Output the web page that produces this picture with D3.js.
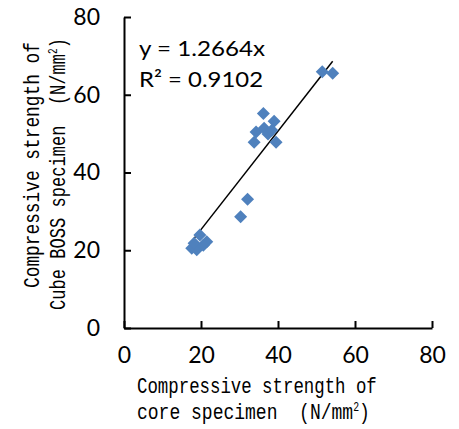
<!DOCTYPE html>
<html>
<head>
<meta charset="utf-8">
<script src="https://cdn.jsdelivr.net/npm/d3@7/dist/d3.min.js"></script>
<style>
html,body{margin:0;padding:0;background:#fff;}
svg{display:block;}
</style>
</head>
<body>
<svg id="chart" width="459" height="429"></svg>
<script>
const coreStrength = [51.5, 54.2, 36.2, 39.0, 34.3, 36.4, 37.4, 38.4, 33.8, 39.5, 32.1, 30.3, 19.7, 21.5, 17.6, 18.9, 20.6, 18.2];
const cubeStrength = [65.9, 65.5, 55.2, 53.2, 50.4, 51.4, 49.9, 50.9, 47.8, 47.8, 33.1, 28.6, 23.9, 22.2, 20.5, 20.1, 21.3, 21.8];
const xTicks = [0, 20, 40, 60, 80];
const yTicks = [0, 20, 40, 60, 80];
const slope = 1.2664;
const equationText = "y = 1.2664x";
const r2Text = "R\u00B2 = 0.9102";
const xTitle = ["Compressive strength of", "core specimen  (N/mm"];
const yTitle = ["Compressive strength of", "Cube BOSS specimen  (N/mm"];

const svg = d3.select("#chart");
const L = 124, R = 432, T = 17, B = 328;
const x = d3.scaleLinear().domain([0, 80]).range([L, R]);
const y = d3.scaleLinear().domain([0, 80]).range([B, T]);

const tickFont = "Lato, 'Open Sans', sans-serif";
const monoFont = "'Liberation Mono', 'DejaVu Sans Mono', monospace";

// axes
const gx = svg.append("g").attr("transform", `translate(0,${B})`)
  .call(d3.axisBottom(x).tickValues(xTicks).tickSizeInner(-7).tickSizeOuter(0).tickPadding(19));
const gy = svg.append("g").attr("transform", `translate(${L},0)`)
  .call(d3.axisLeft(y).tickValues(yTicks).tickSizeInner(-7).tickSizeOuter(0).tickPadding(24));
[gx, gy].forEach(g => {
  g.select(".domain").attr("stroke", "#000").attr("stroke-width", 2);
  g.selectAll(".tick line").attr("stroke", "#000").attr("stroke-width", 2);
  g.selectAll(".tick text").attr("fill", "#000").style("font-family", tickFont).style("font-size", "23px");
});

// trend line
const xs = d3.extent(coreStrength);
svg.append("line")
  .attr("x1", x(xs[0])).attr("y1", y(slope * xs[0]))
  .attr("x2", x(xs[1])).attr("y2", y(slope * xs[1]))
  .attr("stroke", "#000").attr("stroke-width", 1.5);

// diamonds
const h = 6.5;
svg.append("g").selectAll("path")
  .data(coreStrength.map((v, i) => [v, cubeStrength[i]]))
  .join("path")
  .attr("d", d => {
    const cx = x(d[0]), cy = y(d[1]);
    return `M${cx},${cy - h}L${cx + h},${cy}L${cx},${cy + h}L${cx - h},${cy}Z`;
  })
  .attr("fill", "#4F81BD");

// equation
svg.append("text").attr("x", 139).attr("y", 56).text(equationText)
  .style("font-family", tickFont).style("font-size", "22px").attr("fill", "#000")
  .attr("textLength", 126).attr("lengthAdjust", "spacingAndGlyphs");
svg.append("text").attr("x", 139).attr("y", 87).text(r2Text)
  .style("font-family", tickFont).style("font-size", "22px").attr("fill", "#000")
  .attr("textLength", 124).attr("lengthAdjust", "spacingAndGlyphs");

// titles with superscript 2
function titleLine(tx, ty, rot, str, len) {
  const g = svg.append("g");
  const t = g.append("text")
    .style("font-family", monoFont).style("font-size", "22px").style("white-space", "pre")
    .attr("fill", "#000");
  t.append("tspan").text(str);
  if (str.endsWith("(N/mm")) {
    t.append("tspan").text("2").style("font-size", "12px").attr("dy", -8);
    t.append("tspan").text(")").attr("dy", 8);
  }
  const w = t.node().getComputedTextLength();
  const sx = len / w;
  g.attr("transform", `translate(${tx},${ty}) rotate(${rot}) scale(${sx},1)`);
}
titleLine(137, 393, 0, xTitle[0], 240);
titleLine(137, 419, 0, xTitle[1], 233);
titleLine(39, 288, -90, yTitle[0], 246);
titleLine(65, 310, -90, yTitle[1], 272);
</script>
</body>
</html>
